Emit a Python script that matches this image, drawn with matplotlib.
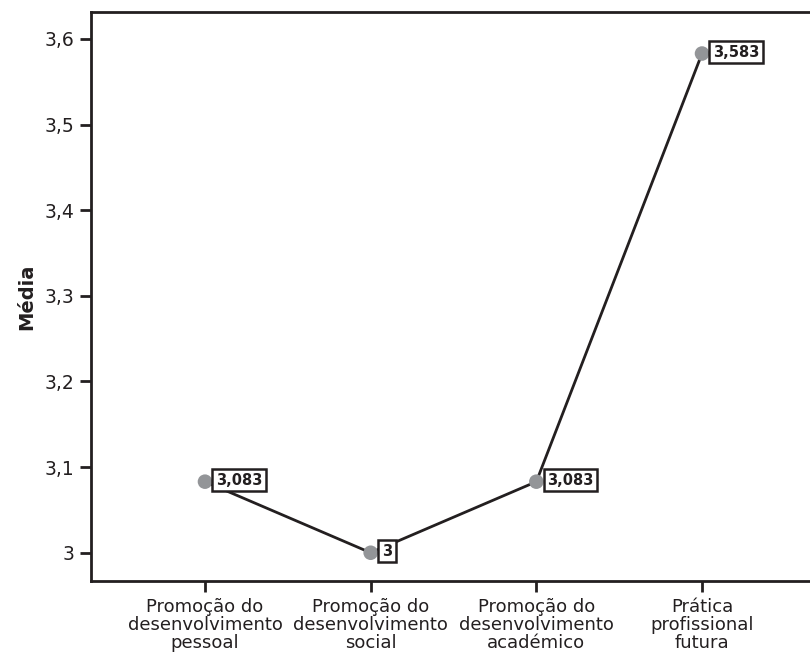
import matplotlib
matplotlib.use("Agg")
import matplotlib.pyplot as plt

categories = ["Promoção do\ndesenvolvimento\npessoal",
              "Promoção do\ndesenvolvimento\nsocial",
              "Promoção do\ndesenvolvimento\nacadémico",
              "Prática\nprofissional\nfutura"]
values = [3.083, 3.0, 3.083, 3.583]
value_labels = ["3,083", "3", "3,083", "3,583"]
yticks = [3.0, 3.1, 3.2, 3.3, 3.4, 3.5, 3.6]
ytick_labels = ["3", "3,1", "3,2", "3,3", "3,4", "3,5", "3,6"]

plt.rcParams['font.family'] = ['DejaVu Sans']
fig = plt.figure(figsize=(8.10, 6.58), dpi=100)
L, R, T, B = 91, 816, 12, 581
ax = fig.add_axes([L/810, 1 - B/658, (R-L)/810, (B-T)/658])
x = list(range(len(values)))
ax.plot(x, values, color='#231f20', lw=2, zorder=2)
ax.scatter(x, values, s=110, color='#939598', zorder=3, edgecolors='none')
for xi, v, lab in zip(x, values, value_labels):
    ax.annotate(lab, (xi, v), xytext=(8, 1), textcoords='offset points',
                ha='left', va='center', fontsize=10.5, fontweight='bold', color='#231f20',
                bbox=dict(boxstyle='square,pad=0.25', fc='white', ec='#231f20', lw=1.8), zorder=4)
ax.set_xlim(-0.688, 3.688)
ax.set_ylim(2.967, 3.6315)
ax.set_xticks(x)
ax.set_xticklabels(categories, fontsize=13, color='#231f20', linespacing=1.0)
ax.set_yticks(yticks)
ax.set_yticklabels(ytick_labels, fontsize=13.5, color='#231f20')
ax.tick_params(axis='both', direction='out', length=8, width=2, color='#231f20', pad=4)
ax.set_ylabel("Média", fontsize=14, fontweight='bold', color='#231f20', labelpad=6)
for s in ax.spines.values():
    s.set_linewidth(2)
    s.set_color('#231f20')
fig.savefig("out.png", dpi=100)
